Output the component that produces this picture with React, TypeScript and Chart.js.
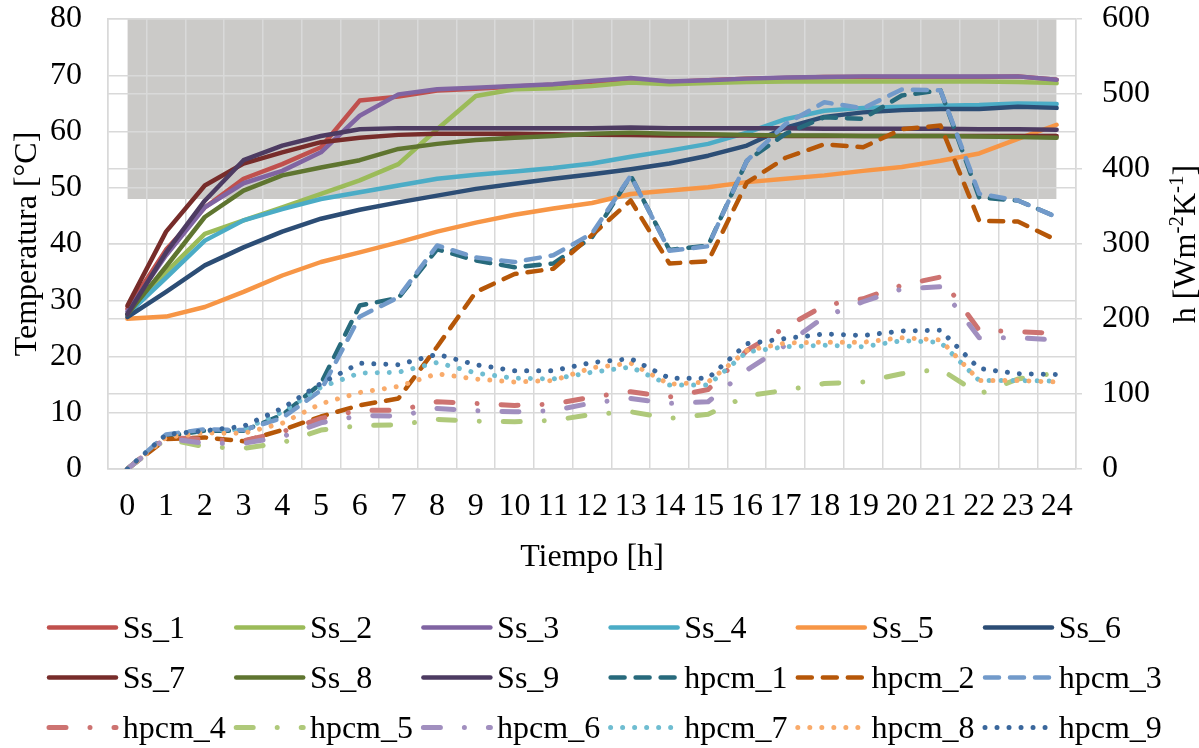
import React, { useEffect, useRef } from 'react';
import { Chart, registerables } from 'chart.js';

Chart.register(...registerables);

// ---------- data ----------
const hours = ['0', '1', '2', '3', '4', '5', '6', '7', '8', '9', '10', '11', '12', '13', '14', '15', '16', '17', '18', '19', '20', '21', '22', '23', '24'];

const ss1 = [28.5, 39, 46.5, 51.6, 54.2, 57.2, 65.5, 66.2, 67.3, 67.6, 68, 68.3, 68.8, 69.3, 68.8, 69.1, 69.4, 69.5, 69.7, 69.7, 69.7, 69.7, 69.7, 69.8, 69.2];
const ss2 = [27.5, 35, 41.8, 44.2, 46.5, 48.9, 51.3, 54.2, 60.4, 66.3, 67.5, 67.7, 68.1, 68.7, 68.4, 68.6, 68.8, 68.9, 68.9, 68.9, 68.9, 68.9, 68.9, 68.8, 68.6];
const ss3 = [28, 38, 46.5, 50.8, 53, 56.3, 62.8, 66.6, 67.5, 67.8, 68.1, 68.4, 69.0, 69.5, 68.9, 69.1, 69.4, 69.6, 69.7, 69.8, 69.8, 69.8, 69.8, 69.8, 69.2];
const ss4 = [27.5, 34, 40.6, 44.2, 46.2, 48, 49.2, 50.4, 51.6, 52.3, 52.9, 53.5, 54.3, 55.5, 56.6, 57.8, 59.8, 62.2, 63.7, 64.2, 64.4, 64.6, 64.7, 65, 64.9];
const ss5 = [26.7, 27.1, 28.8, 31.5, 34.4, 36.8, 38.5, 40.3, 42.2, 43.8, 45.2, 46.3, 47.3, 48.9, 49.5, 50.1, 51, 51.6, 52.2, 53, 53.7, 54.8, 56.1, 58.7, 61.2];
const ss6 = [27, 31.5, 36.2, 39.4, 42.2, 44.5, 46.1, 47.4, 48.6, 49.8, 50.7, 51.6, 52.4, 53.3, 54.3, 55.7, 57.5, 60.7, 62.6, 63.4, 63.8, 64, 64, 64.4, 64.2];
const ss7 = [29, 42.2, 50.4, 54.3, 56.3, 58.1, 58.9, 59.4, 59.6, 59.6, 59.6, 59.5, 59.4, 59.4, 59.3, 59.3, 59.3, 59.2, 59.2, 59.2, 59.2, 59.2, 59.2, 59.2, 59.2];
const ss8 = [27.5, 36, 44.8, 49.5, 52.2, 53.6, 54.9, 56.9, 57.8, 58.5, 58.9, 59.2, 59.6, 59.8, 59.6, 59.5, 59.4, 59.3, 59.3, 59.2, 59.2, 59.2, 59.1, 59, 58.9];
const ss9 = [27.5, 38.5, 47.7, 54.9, 57.5, 59.2, 60.4, 60.6, 60.6, 60.6, 60.6, 60.6, 60.6, 60.7, 60.6, 60.6, 60.6, 60.6, 60.5, 60.5, 60.5, 60.5, 60.4, 60.4, 60.3];

const hpcm1 = [0, 44, 51, 51, 72, 114, 218, 228, 293, 278, 269, 274, 309, 391, 292, 298, 411, 447, 469, 467, 498, 505, 362, 358, 336];
const hpcm2 = [0, 40, 42, 37, 52, 70, 85, 94, 163, 236, 260, 267, 312, 358, 274, 277, 382, 415, 433, 429, 453, 458, 331, 330, 305];
const hpcm3 = [0, 46, 53, 52, 68, 105, 203, 229, 298, 282, 276, 285, 314, 391, 291, 297, 411, 460, 489, 481, 506, 505, 367, 358, 336];
const hpcm4 = [0, 42, 39.5, 37.7, 49.6, 67.4, 78.4, 78.4, 89.6, 87.4, 84.8, 86.5, 96, 103, 96, 106, 158, 189, 218, 227, 245, 256, 185, 183, 181];
const hpcm5 = [0, 40, 29.7, 27.5, 35, 51.9, 57.7, 59, 66.1, 63.9, 62.9, 64.8, 72.7, 76.3, 67.4, 73, 97.5, 105, 114, 116, 127, 133, 100, 120, 128];
const hpcm6 = [0, 41, 34.2, 34.2, 43, 61.6, 71, 70.6, 80.7, 77.6, 76.3, 77.6, 88.2, 94, 87.4, 89.6, 132, 165, 203, 223, 240, 243, 175, 175, 172];
const hpcm7 = [0, 45, 50, 53, 76, 109, 128, 129, 142, 128, 121, 120, 129, 136, 112, 112, 156, 163, 165, 163, 171, 169, 118, 118, 117];
const hpcm8 = [0, 42, 48, 47.5, 61, 87, 102, 110, 127, 120, 116, 118, 135, 141, 113, 116, 158, 168, 169, 169, 175, 172, 118, 118, 116];
const hpcm9 = [0, 46, 51, 57, 81, 114, 141, 139, 153, 139, 131, 131, 142, 147, 121, 121, 167, 174, 180, 178, 184, 185, 134, 127, 126];

// shaded band (°C): from 48 up to 80 across the whole day
const bandData = [{ x: '0', y: 80 }, { x: '24', y: 80 }];
const bandBase = 48;

const FONT = "'Liberation Serif', 'Times New Roman', serif";
const GRID = '#d9d9d9';

const DASH = [14, 11];
const DASHDOT = [17, 24, 0.01, 24];
const DOT = [0.01, 12];

type S = { label: string; data: number[]; color: string; axis: string; dash: number[]; width: number };
const series: S[] = [
  { label: 'Ss_1', data: ss1, color: '#C0504D', axis: 'y', dash: [], width: 4.5 },
  { label: 'Ss_2', data: ss2, color: '#9BBB59', axis: 'y', dash: [], width: 4.5 },
  { label: 'Ss_3', data: ss3, color: '#8064A2', axis: 'y', dash: [], width: 4.5 },
  { label: 'Ss_4', data: ss4, color: '#4BACC6', axis: 'y', dash: [], width: 4.5 },
  { label: 'Ss_5', data: ss5, color: '#F79646', axis: 'y', dash: [], width: 4.5 },
  { label: 'Ss_6', data: ss6, color: '#2C4D75', axis: 'y', dash: [], width: 4.5 },
  { label: 'Ss_7', data: ss7, color: '#772C2A', axis: 'y', dash: [], width: 4.5 },
  { label: 'Ss_8', data: ss8, color: '#5F7530', axis: 'y', dash: [], width: 4.5 },
  { label: 'Ss_9', data: ss9, color: '#4D3B62', axis: 'y', dash: [], width: 4.5 },
  { label: 'hpcm_1', data: hpcm1, color: '#276A7C', axis: 'y1', dash: DASH, width: 4.5 },
  { label: 'hpcm_2', data: hpcm2, color: '#B65708', axis: 'y1', dash: DASH, width: 4.5 },
  { label: 'hpcm_3', data: hpcm3, color: '#729ACA', axis: 'y1', dash: DASH, width: 4.5 },
  { label: 'hpcm_4', data: hpcm4, color: '#CD7371', axis: 'y1', dash: DASHDOT, width: 5 },
  { label: 'hpcm_5', data: hpcm5, color: '#AFC97A', axis: 'y1', dash: DASHDOT, width: 5 },
  { label: 'hpcm_6', data: hpcm6, color: '#A18FBF', axis: 'y1', dash: DASHDOT, width: 5 },
  { label: 'hpcm_7', data: hpcm7, color: '#6FBDD1', axis: 'y1', dash: DOT, width: 5 },
  { label: 'hpcm_8', data: hpcm8, color: '#F9AB6B', axis: 'y1', dash: DOT, width: 5 },
  { label: 'hpcm_9', data: hpcm9, color: '#3A679C', axis: 'y1', dash: DOT, width: 5 },
];

const gridLegend = {
  id: 'gridLegend',
  afterDraw(chart: any) {
    const ctx = chart.ctx;
    const items = chart.data.datasets.filter((d: any) => !d.isBand);
    items.forEach((ds: any, i: number) => {
      const col = i % 6;
      const row = Math.floor(i / 6);
      const x0 = 46.7 + col * 187.2;
      const y = 627.5 + row * 50;
      ctx.save();
      ctx.strokeStyle = ds.borderColor;
      ctx.lineWidth = ds.borderWidth;
      ctx.lineCap = 'round';
      ctx.setLineDash(ds.borderDash || []);
      ctx.beginPath();
      ctx.moveTo(x0 + 2.3, y);
      ctx.lineTo(x0 + 69.3, y);
      ctx.stroke();
      ctx.setLineDash([]);
      ctx.fillStyle = '#000';
      ctx.font = `32px ${FONT}`;
      ctx.textBaseline = 'alphabetic';
      ctx.textAlign = 'left';
      ctx.fillText(ds.label, x0 + 76, y + 10);
      ctx.restore();
    });
  },
};

const rightTitle = {
  id: 'rightTitle',
  afterDraw(chart: any) {
    const ctx = chart.ctx;
    const area = chart.chartArea;
    const cx = 1184;
    const cy = (area.top + area.bottom) / 2;
    const parts = [
      { t: 'h [Wm', sup: false },
      { t: '-2', sup: true },
      { t: 'K', sup: false },
      { t: '-1', sup: true },
      { t: ']', sup: false },
    ];
    ctx.save();
    ctx.translate(cx, cy);
    ctx.rotate(-Math.PI / 2);
    ctx.fillStyle = '#000';
    ctx.textBaseline = 'alphabetic';
    ctx.textAlign = 'left';
    let total = 0;
    parts.forEach((p) => {
      ctx.font = p.sup ? `21px ${FONT}` : `32px ${FONT}`;
      total += ctx.measureText(p.t).width;
    });
    let x = -total / 2;
    parts.forEach((p) => {
      ctx.font = p.sup ? `21px ${FONT}` : `32px ${FONT}`;
      ctx.fillText(p.t, x, p.sup ? 10.8 - 12 : 10.8);
      x += ctx.measureText(p.t).width;
    });
    ctx.restore();
  },
};

export default function App() {
  const ref = useRef<HTMLCanvasElement | null>(null);

  useEffect(() => {
    document.body.style.margin = '0';
    const canvas = ref.current;
    if (!canvas) return;

    const datasets: any[] = series.map((s, i) => ({
      label: s.label,
      data: s.data,
      yAxisID: s.axis,
      borderColor: s.color,
      backgroundColor: s.color,
      borderWidth: s.width,
      borderDash: s.dash,
      borderCapStyle: 'round',
      borderJoinStyle: 'round',
      pointRadius: 0,
      pointHoverRadius: 0,
      tension: 0,
      fill: false,
      order: 100 - i,
    }));
    datasets.push({
      label: 'band',
      isBand: true,
      data: bandData,
      yAxisID: 'y',
      borderWidth: 0,
      borderColor: 'rgba(0,0,0,0)',
      backgroundColor: '#CBCAC8',
      pointRadius: 0,
      fill: { value: bandBase },
      order: 1000,
    });

    const noVPad = (scale: any, w: number) => {
      scale.width = w;
      scale.paddingTop = 0;
      scale.paddingBottom = 0;
    };

    const chart = new Chart(canvas, {
      type: 'line',
      data: { labels: hours, datasets },
      options: {
        responsive: false,
        animation: false,
        devicePixelRatio: 1,
        layout: { padding: { top: 19, left: 0, right: 0, bottom: 171 } },
        font: { family: FONT, size: 32 },
        plugins: {
          legend: { display: false },
          tooltip: { enabled: false },
          filler: { drawTime: 'beforeDraw' },
        },
        scales: {
          x: {
            type: 'category',
            offset: true,
            grid: { offset: true, color: GRID, lineWidth: 1.5, drawTicks: false },
            border: { display: true, color: GRID, width: 1.5 },
            ticks: {
              color: '#000',
              font: { family: FONT, size: 32 },
              padding: 18,
              maxRotation: 0,
              autoSkip: false,
            },
            title: {
              display: true,
              text: 'Tiempo [h]',
              color: '#000',
              font: { family: FONT, size: 32 },
              padding: { top: 0, bottom: 0 },
            },
            afterFit: (scale: any) => {
              scale.height = 108;
              scale.paddingLeft = 0;
              scale.paddingRight = 0;
            },
          },
          y: {
            position: 'left',
            min: 0,
            max: 80,
            grid: { color: GRID, lineWidth: 1.5, drawTicks: false },
            border: { display: true, color: GRID, width: 1.5 },
            ticks: {
              stepSize: 10,
              color: '#000',
              font: { family: FONT, size: 32 },
              padding: 26,
            },
            title: {
              display: true,
              text: 'Temperatura [°C]',
              color: '#000',
              font: { family: FONT, size: 32 },
              padding: { top: 8, bottom: 0 },
            },
            afterFit: (scale: any) => noVPad(scale, 108),
          },
          y1: {
            position: 'right',
            min: 0,
            max: 600,
            grid: { color: GRID, lineWidth: 1.5, drawTicks: true, tickLength: 6 },
            border: { display: true, color: GRID, width: 1.5 },
            ticks: {
              stepSize: 100,
              color: '#000',
              font: { family: FONT, size: 32 },
              padding: 20,
            },
            title: { display: false },
            afterFit: (scale: any) => noVPad(scale, 123),
          },
        },
      },
      plugins: [gridLegend, rightTitle],
    } as any);

    return () => {
      chart.destroy();
    };
  }, []);

  return (
    <div style={{ position: 'absolute', left: 0, top: 0, width: 1199, height: 748, background: '#fff' }}>
      <canvas ref={ref} width={1199} height={748} style={{ display: 'block', width: 1199, height: 748 }} />
    </div>
  );
}
